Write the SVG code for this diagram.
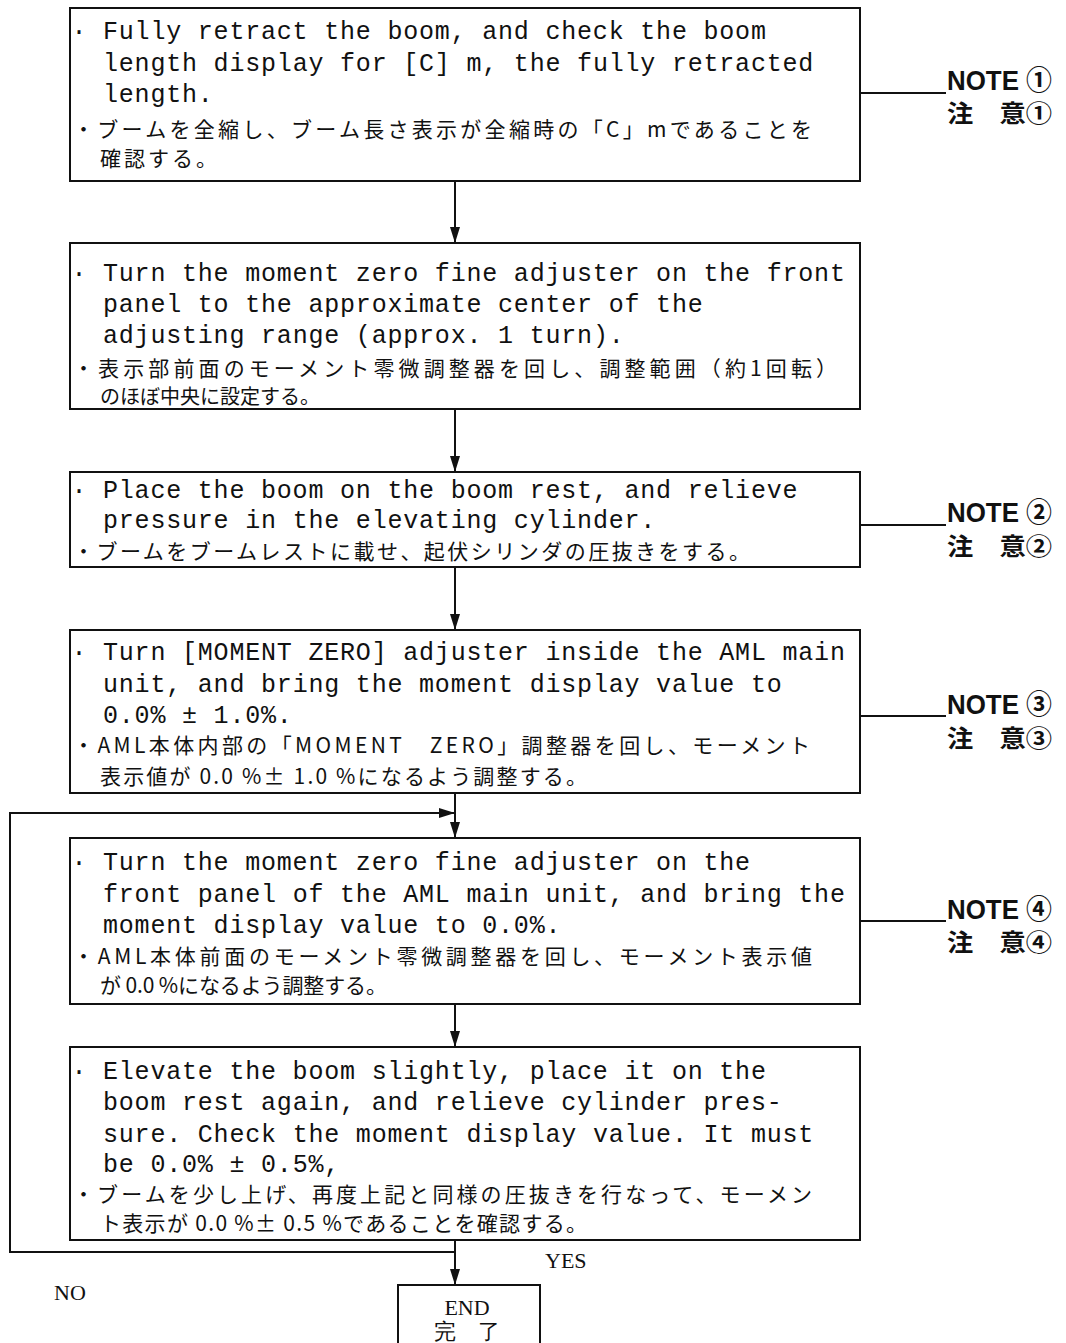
<svg xmlns="http://www.w3.org/2000/svg" width="1066" height="1343" viewBox="0 0 1066 1343">
<style>
.box{fill:#fff;stroke:#111;stroke-width:2}
.ln{fill:none;stroke:#111;stroke-width:2}
.en{font-family:"Liberation Mono","DejaVu Sans Mono",monospace;font-size:25px;letter-spacing:0.8px;fill:#111;white-space:pre}
.jp{font-family:"Noto Sans CJK JP","Noto Sans CJK SC",sans-serif;font-size:21px;letter-spacing:3px;fill:#111;white-space:pre}
.note{font-family:"Liberation Sans","Noto Sans CJK JP",sans-serif;font-size:27px;font-weight:bold;fill:#111}
.chu{font-family:"Noto Sans CJK JP",sans-serif;font-size:24px;font-weight:bold;fill:#111}
.lbl{font-family:"Liberation Serif",serif;font-size:22px;fill:#111}
</style>
<defs>
<marker id="ah" viewBox="0 0 16 10" refX="16" refY="5" markerWidth="16" markerHeight="10" markerUnits="userSpaceOnUse" orient="auto">
<path d="M0,0 L16,5 L0,10 Z" fill="#111"/>
</marker>
</defs>

<g id="connectors">
<line class="ln" x1="455" y1="181" x2="455" y2="243" marker-end="url(#ah)"/>
<line class="ln" x1="455" y1="409" x2="455" y2="472" marker-end="url(#ah)"/>
<line class="ln" x1="455" y1="567" x2="455" y2="630" marker-end="url(#ah)"/>
<line class="ln" x1="455" y1="793" x2="455" y2="838" marker-end="url(#ah)"/>
<line class="ln" x1="455" y1="1004" x2="455" y2="1047" marker-end="url(#ah)"/>
<line class="ln" x1="455" y1="1240" x2="455" y2="1285" marker-end="url(#ah)"/>
<polyline class="ln" points="455,1252 10,1252 10,813 455,813" marker-end="url(#ah)"/>
<line class="ln" x1="860" y1="93" x2="946" y2="93"/>
<line class="ln" x1="860" y1="525" x2="946" y2="525"/>
<line class="ln" x1="860" y1="716" x2="946" y2="716"/>
<line class="ln" x1="860" y1="921" x2="946" y2="921"/>
<text class="lbl" x="545" y="1268">YES</text>
<text class="lbl" x="54" y="1300">NO</text>
</g>

<g id="step1">
<rect class="box" x="70" y="8" width="790" height="173"/>
<text class="en" x="71.4" y="39">· Fully retract the boom, and check the boom</text>
<text class="en" x="103" y="71">length display for [C] m, the fully retracted</text>
<text class="en" x="103" y="102">length.</text>
<text class="jp" x="73" y="137" textLength="742">・ブームを全縮し、ブーム長さ表示が全縮時の「C」mであることを</text>
<text class="jp" x="100" y="166">確認する。</text>
</g>
<g id="note1">
<text class="note" x="947" y="90" textLength="105" lengthAdjust="spacingAndGlyphs">NOTE ①</text>
<text class="chu" x="947" y="122" textLength="105" lengthAdjust="spacingAndGlyphs">注　意①</text>
</g>

<g id="step2">
<rect class="box" x="70" y="243" width="790" height="166"/>
<text class="en" x="71.4" y="281">· Turn the moment zero fine adjuster on the front</text>
<text class="en" x="103" y="312">panel to the approximate center of the</text>
<text class="en" x="103" y="343">adjusting range (approx. 1 turn).</text>
<text class="jp" x="73" y="376" textLength="767">・表示部前面のモーメント零微調整器を回し、調整範囲（約1回転）</text>
<text class="jp" x="100" y="404" style="font-size:20px;letter-spacing:0">のほぼ中央に設定する。</text>
</g>

<g id="step3">
<rect class="box" x="70" y="472" width="790" height="95"/>
<text class="en" x="71.4" y="498">· Place the boom on the boom rest, and relieve</text>
<text class="en" x="103" y="528">pressure in the elevating cylinder.</text>
<text class="jp" x="73" y="559" textLength="680">・ブームをブームレストに載せ、起伏シリンダの圧抜きをする。</text>
</g>
<g id="note2">
<text class="note" x="947" y="522" textLength="105" lengthAdjust="spacingAndGlyphs">NOTE ②</text>
<text class="chu" x="947" y="555" textLength="105" lengthAdjust="spacingAndGlyphs">注　意②</text>
</g>

<g id="step4">
<rect class="box" x="70" y="630" width="790" height="163"/>
<text class="en" x="71.4" y="660">· Turn [MOMENT ZERO] adjuster inside the AML main</text>
<text class="en" x="103" y="692">unit, and bring the moment display value to</text>
<text class="en" x="103" y="723">0.0% ± 1.0%.</text>
<text class="jp" x="73" y="753" textLength="740">・AML本体内部の「MOMENT　ZERO」調整器を回し、モーメント</text>
<text class="jp" x="100" y="784" textLength="490">表示値が 0.0 %± 1.0 %になるよう調整する。</text>
</g>
<g id="note3">
<text class="note" x="947" y="714" textLength="105" lengthAdjust="spacingAndGlyphs">NOTE ③</text>
<text class="chu" x="947" y="747" textLength="105" lengthAdjust="spacingAndGlyphs">注　意③</text>
</g>

<g id="step5">
<rect class="box" x="70" y="838" width="790" height="166"/>
<text class="en" x="71.4" y="870">· Turn the moment zero fine adjuster on the</text>
<text class="en" x="103" y="902">front panel of the AML main unit, and bring the</text>
<text class="en" x="103" y="933">moment display value to 0.0%.</text>
<text class="jp" x="73" y="964" textLength="742">・AML本体前面のモーメント零微調整器を回し、モーメント表示値</text>
<text class="jp" x="100" y="993" textLength="290">が 0.0 %になるよう調整する。</text>
</g>
<g id="note4">
<text class="note" x="947" y="919" textLength="105" lengthAdjust="spacingAndGlyphs">NOTE ④</text>
<text class="chu" x="947" y="951" textLength="105" lengthAdjust="spacingAndGlyphs">注　意④</text>
</g>

<g id="step6">
<rect class="box" x="70" y="1047" width="790" height="193"/>
<text class="en" x="71.4" y="1079">· Elevate the boom slightly, place it on the</text>
<text class="en" x="103" y="1110">boom rest again, and relieve cylinder pres-</text>
<text class="en" x="103" y="1142">sure. Check the moment display value. It must</text>
<text class="en" x="103" y="1172">be 0.0% ± 0.5%,</text>
<text class="jp" x="73" y="1202" textLength="742">・ブームを少し上げ、再度上記と同様の圧抜きを行なって、モーメン</text>
<text class="jp" x="100" y="1231" textLength="490">ト表示が 0.0 %± 0.5 %であることを確認する。</text>
</g>

<g id="end">
<rect class="box" x="398" y="1285" width="142" height="70"/>
<text class="lbl" x="467" y="1315" text-anchor="middle">END</text>
<text class="lbl" x="467" y="1339" text-anchor="middle" font-family="Noto Sans CJK JP">完　了</text>
</g>
</svg>
